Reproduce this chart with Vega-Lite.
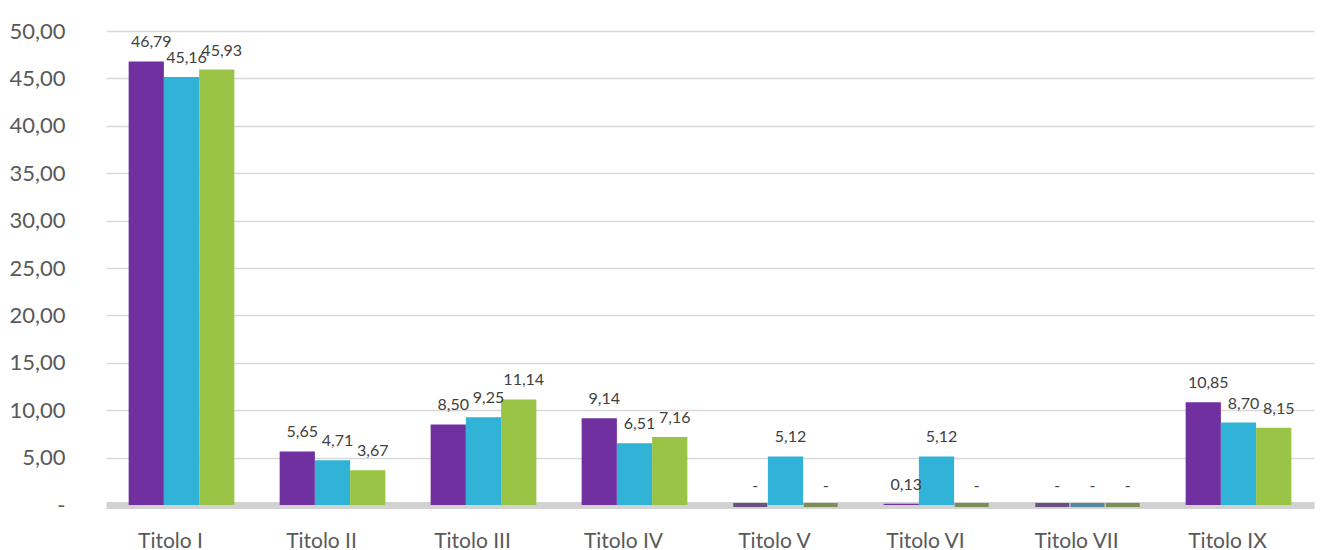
{
  "$schema": "https://vega.github.io/schema/vega-lite/v6.json",
  "width": 1208,
  "height": 474,
  "autosize": {"type": "none"},
  "padding": {"left": 106, "top": 31, "right": 7, "bottom": 45},
  "background": "white",
  "config": {
    "view": {"stroke": null},
    "font": "Lato"
  },
  "data": {
    "values": [
      {"cat": "Titolo I", "serie": "Serie 1", "v": 46.79},
      {"cat": "Titolo I", "serie": "Serie 2", "v": 45.16},
      {"cat": "Titolo I", "serie": "Serie 3", "v": 45.93},
      {"cat": "Titolo II", "serie": "Serie 1", "v": 5.65},
      {"cat": "Titolo II", "serie": "Serie 2", "v": 4.71},
      {"cat": "Titolo II", "serie": "Serie 3", "v": 3.67},
      {"cat": "Titolo III", "serie": "Serie 1", "v": 8.50},
      {"cat": "Titolo III", "serie": "Serie 2", "v": 9.25},
      {"cat": "Titolo III", "serie": "Serie 3", "v": 11.14},
      {"cat": "Titolo IV", "serie": "Serie 1", "v": 9.14},
      {"cat": "Titolo IV", "serie": "Serie 2", "v": 6.51},
      {"cat": "Titolo IV", "serie": "Serie 3", "v": 7.16},
      {"cat": "Titolo V", "serie": "Serie 1", "v": 0},
      {"cat": "Titolo V", "serie": "Serie 2", "v": 5.12},
      {"cat": "Titolo V", "serie": "Serie 3", "v": 0},
      {"cat": "Titolo VI", "serie": "Serie 1", "v": 0.13},
      {"cat": "Titolo VI", "serie": "Serie 2", "v": 5.12},
      {"cat": "Titolo VI", "serie": "Serie 3", "v": 0},
      {"cat": "Titolo VII", "serie": "Serie 1", "v": 0},
      {"cat": "Titolo VII", "serie": "Serie 2", "v": 0},
      {"cat": "Titolo VII", "serie": "Serie 3", "v": 0},
      {"cat": "Titolo IX", "serie": "Serie 1", "v": 10.85},
      {"cat": "Titolo IX", "serie": "Serie 2", "v": 8.70},
      {"cat": "Titolo IX", "serie": "Serie 3", "v": 8.15}
    ]
  },
  "transform": [
    {"calculate": "datum.v == 0 ? '-' : replace(format(datum.v, '.2f'), '.', ',')", "as": "etichetta"}
  ],
  "encoding": {
    "x": {
      "field": "cat",
      "type": "nominal",
      "sort": ["Titolo I", "Titolo II", "Titolo III", "Titolo IV", "Titolo V", "Titolo VI", "Titolo VII", "Titolo IX"],
      "scale": {"paddingInner": 0.3, "paddingOuter": 0.15},
      "axis": {
        "title": null,
        "labelAngle": 0,
        "labelFontSize": 21,
        "labelColor": "#595959",
        "labelPadding": 25,
        "labelOffset": -11,
        "ticks": false,
        "domainColor": "#d2d2d2",
        "domainWidth": 7
      }
    },
    "xOffset": {"field": "serie", "type": "nominal", "sort": ["Serie 1", "Serie 2", "Serie 3"]},
    "y": {
      "field": "v",
      "type": "quantitative",
      "scale": {"domain": [0, 50], "nice": false},
      "axis": {
        "title": null,
        "values": [0, 5, 10, 15, 20, 25, 30, 35, 40, 45, 50],
        "labelExpr": "datum.value == 0 ? '-' : replace(format(datum.value, '.2f'), '.', ',')",
        "labelFontSize": 22,
        "labelColor": "#595959",
        "labelPadding": 41,
        "domain": false,
        "ticks": false,
        "gridColor": "#d9d9d9",
        "gridWidth": 1.5
      }
    }
  },
  "layer": [
    {
      "mark": {"type": "bar"},
      "encoding": {
        "color": {
          "field": "serie",
          "type": "nominal",
          "scale": {"domain": ["Serie 1", "Serie 2", "Serie 3"], "range": ["#7030A0", "#31B2D7", "#99C446"]},
          "legend": null
        }
      }
    },
    {
      "transform": [{"filter": "datum.v == 0"}],
      "mark": {"type": "tick", "size": 34, "thickness": 4},
      "encoding": {
        "color": {
          "field": "serie",
          "type": "nominal",
          "scale": {"domain": ["Serie 1", "Serie 2", "Serie 3"], "range": ["#3f1a5e", "#1d6a82", "#55701f"]},
          "legend": null
        }
      }
    },
    {
      "mark": {"type": "text", "dy": -19, "dx": 5, "fontSize": 16, "color": "#404040"},
      "encoding": {
        "text": {"field": "etichetta"}
      }
    }
  ],
  "resolve": {"scale": {"color": "independent"}}
}
